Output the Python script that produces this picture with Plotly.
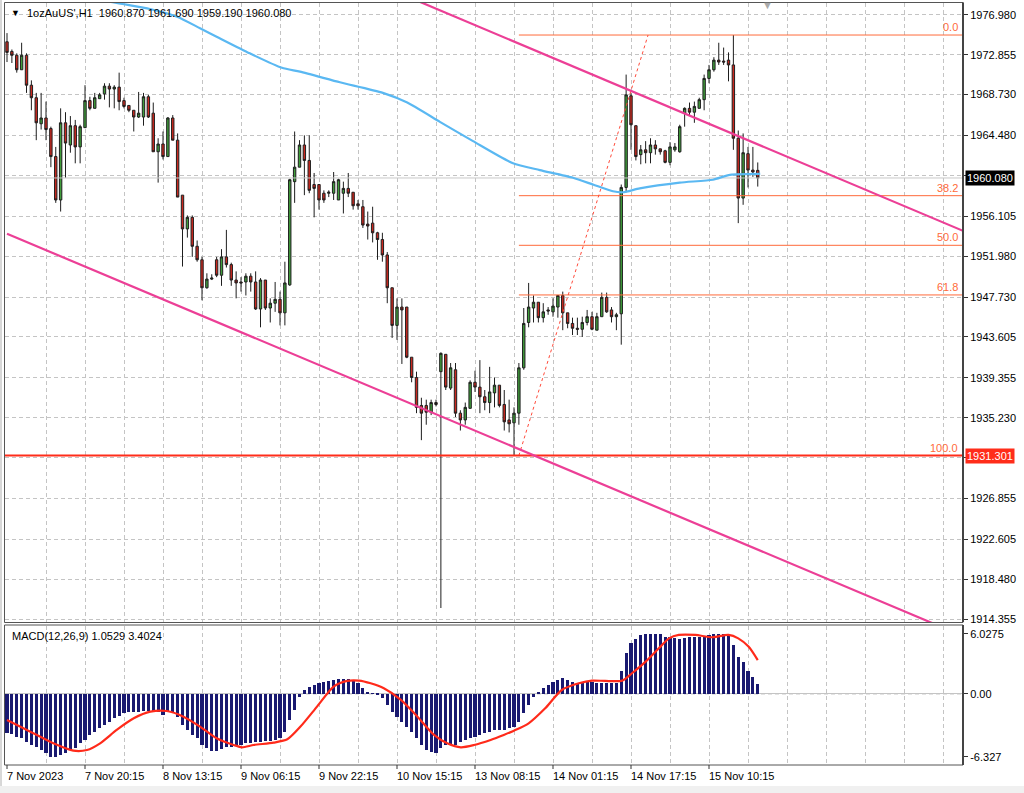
import plotly.graph_objects as go

# ---------------- data ----------------
time_labels = ["7 Nov 2023", "7 Nov 20:15", "8 Nov 13:15", "9 Nov 06:15", "9 Nov 22:15",
               "10 Nov 15:15", "13 Nov 08:15", "14 Nov 01:15", "14 Nov 17:15", "15 Nov 10:15"]
label_bars = [0, 16, 32, 48, 64, 80, 96, 112, 128, 144]

open_ = [1974.2, 1973.2, 1972.8, 1971.3, 1972.8, 1969.7, 1968.4, 1965.7, 1966.3, 1965.2,
         1962.3, 1957.8, 1965.8, 1963.5, 1965.5, 1963.3, 1965.3, 1968.1, 1967.3, 1968.3,
         1968.8, 1969.6, 1969.3, 1969.5, 1968.1, 1967.6, 1967.1, 1966.4, 1966.4, 1968.5,
         1966.8, 1962.8, 1963.6, 1962.3, 1966.3, 1964.0, 1958.3, 1954.8, 1956.0, 1953.0,
         1951.6, 1948.7, 1949.6, 1951.6, 1950.0, 1951.9, 1951.1, 1949.5, 1949.3, 1949.3,
         1949.9, 1949.3, 1946.5, 1949.5, 1946.6, 1947.1, 1947.5, 1946.1, 1949.0, 1959.7,
         1961.2, 1963.5, 1961.9, 1959.4, 1959.4, 1958.5, 1958.5, 1958.5, 1957.8, 1958.5,
         1959.0, 1958.6, 1957.4, 1957.1, 1955.3, 1955.4, 1954.4, 1953.7, 1952.1, 1948.7,
         1944.8, 1946.7, 1946.7, 1941.5, 1939.4, 1936.5, 1936.5, 1935.8, 1936.8, 1940.0,
         1941.8, 1938.3, 1940.2, 1935.7, 1935.0, 1936.2, 1938.9, 1938.4, 1937.4, 1936.8,
         1937.8, 1938.6, 1936.6, 1935.0, 1934.7, 1935.7, 1940.4, 1945.1, 1946.6, 1947.2,
         1945.6, 1946.4, 1946.2, 1946.7, 1947.9, 1946.1, 1945.0, 1944.5, 1944.4, 1945.1,
         1945.7, 1944.3, 1945.7, 1947.7, 1946.4, 1945.7, 1946.0, 1959.1, 1968.6, 1965.5,
         1962.5, 1963.0, 1962.7, 1963.5, 1963.1, 1962.9, 1961.7, 1963.0, 1962.8, 1966.8,
         1967.3, 1966.9, 1967.3, 1968.2, 1970.4, 1971.3, 1972.3, 1972.2, 1972.3, 1971.8,
         1964.2, 1958.0, 1962.6, 1960.9, 1960.87]
high_ = [1975.1, 1973.4, 1973.0, 1974.1, 1973.0, 1970.2, 1968.9, 1968.9, 1968.0, 1965.4,
         1963.3, 1967.3, 1966.9, 1966.5, 1966.1, 1965.6, 1969.7, 1968.5, 1968.9, 1968.9,
         1969.9, 1969.9, 1969.7, 1971.0, 1968.4, 1967.6, 1967.1, 1969.0, 1968.9, 1968.7,
         1967.9, 1964.2, 1964.9, 1966.4, 1966.6, 1964.7, 1958.3, 1956.2, 1956.2, 1953.6,
         1951.9, 1950.2, 1950.1, 1951.9, 1952.7, 1954.7, 1951.3, 1950.4, 1949.8, 1950.2,
         1950.2, 1950.4, 1949.7, 1949.5, 1947.6, 1949.3, 1948.3, 1951.4, 1960.0, 1964.9,
         1964.0, 1964.5, 1964.5, 1960.6, 1959.4, 1958.8, 1958.8, 1960.7, 1960.0, 1959.7,
         1960.6, 1958.6, 1957.8, 1957.8, 1956.6, 1957.1, 1954.5, 1954.4, 1952.4, 1948.7,
         1947.6, 1947.6, 1946.7, 1941.5, 1940.0, 1937.3, 1937.1, 1937.1, 1937.1, 1942.0,
         1941.8, 1940.9, 1940.9, 1936.0, 1936.8, 1939.1, 1940.1, 1941.2, 1938.1, 1940.5,
         1939.4, 1938.6, 1938.1, 1937.1, 1936.3, 1940.9, 1946.6, 1949.2, 1947.9, 1947.2,
         1947.1, 1946.7, 1947.6, 1947.9, 1948.3, 1946.1, 1945.6, 1945.6, 1945.7, 1946.4,
         1946.2, 1946.1, 1948.2, 1948.2, 1946.7, 1946.1, 1959.4, 1970.8, 1968.9, 1965.5,
         1963.5, 1963.9, 1964.2, 1964.0, 1963.1, 1963.0, 1963.8, 1963.7, 1965.6, 1967.4,
         1967.9, 1968.0, 1968.4, 1970.8, 1971.8, 1972.6, 1974.1, 1973.6, 1973.1, 1974.9,
         1965.0, 1964.7, 1963.3, 1963.3, 1961.69]
low_ = [1972.1, 1972.0, 1971.0, 1971.3, 1968.9, 1967.1, 1964.0, 1965.1, 1964.0, 1961.2,
        1957.5, 1956.6, 1960.1, 1962.7, 1961.6, 1961.6, 1965.3, 1967.1, 1967.3, 1968.3,
        1968.2, 1967.4, 1967.3, 1967.1, 1967.3, 1966.9, 1964.9, 1966.3, 1965.5, 1966.3,
        1962.8, 1959.6, 1962.0, 1962.3, 1964.0, 1958.1, 1950.9, 1953.9, 1951.9, 1951.4,
        1947.4, 1948.6, 1949.5, 1949.8, 1948.9, 1950.8, 1948.9, 1947.6, 1948.3, 1947.9,
        1948.3, 1946.4, 1944.6, 1946.4, 1945.1, 1946.2, 1944.8, 1944.8, 1948.9, 1957.5,
        1961.2, 1958.3, 1958.5, 1956.0, 1956.8, 1957.5, 1958.1, 1957.8, 1957.8, 1956.4,
        1958.1, 1956.8, 1956.8, 1954.9, 1953.7, 1953.4, 1951.6, 1951.4, 1947.1, 1943.5,
        1943.3, 1940.8, 1941.4, 1938.9, 1935.7, 1932.9, 1934.5, 1935.5, 1936.4, 1915.5,
        1938.1, 1938.1, 1935.3, 1933.9, 1934.5, 1936.2, 1937.9, 1935.7, 1936.0, 1935.7,
        1936.3, 1936.3, 1933.9, 1933.7, 1931.3, 1934.5, 1940.2, 1944.6, 1945.1, 1945.1,
        1945.1, 1945.9, 1945.7, 1945.6, 1944.3, 1944.5, 1943.8, 1943.8, 1943.6, 1944.8,
        1944.3, 1944.3, 1945.7, 1946.1, 1945.1, 1944.3, 1942.8, 1958.6, 1963.0, 1961.9,
        1961.5, 1961.6, 1961.6, 1962.5, 1962.5, 1961.6, 1961.4, 1962.8, 1962.7, 1965.4,
        1966.6, 1965.8, 1967.3, 1967.1, 1969.9, 1971.1, 1971.8, 1971.8, 1970.1, 1963.0,
        1955.4, 1957.3, 1959.1, 1960.2, 1959.19]
close_ = [1973.1, 1972.8, 1971.3, 1972.8, 1969.7, 1968.4, 1965.8, 1966.3, 1965.1, 1962.3,
          1957.8, 1965.8, 1963.7, 1965.5, 1963.3, 1965.4, 1968.1, 1967.3, 1968.4, 1968.7,
          1969.6, 1969.3, 1969.5, 1968.0, 1967.5, 1967.1, 1966.4, 1966.8, 1968.5, 1966.4,
          1962.8, 1963.6, 1962.3, 1966.3, 1964.0, 1958.1, 1954.8, 1956.0, 1953.0, 1951.6,
          1948.7, 1949.6, 1949.7, 1950.0, 1951.9, 1951.1, 1949.5, 1949.2, 1949.2, 1949.9,
          1949.3, 1946.5, 1949.5, 1946.6, 1947.1, 1947.5, 1946.1, 1949.2, 1959.9, 1961.2,
          1963.5, 1961.9, 1958.8, 1959.0, 1957.8, 1957.8, 1958.6, 1959.7, 1959.9, 1959.0,
          1958.5, 1957.2, 1957.2, 1955.2, 1955.1, 1954.4, 1953.7, 1952.1, 1948.7, 1944.8,
          1946.7, 1946.4, 1941.5, 1939.4, 1936.3, 1935.7, 1935.8, 1936.8, 1936.6, 1941.9,
          1938.4, 1940.4, 1935.7, 1935.0, 1936.3, 1938.9, 1938.4, 1937.4, 1936.8, 1937.9,
          1938.6, 1936.5, 1934.8, 1934.6, 1935.7, 1940.4, 1945.0, 1946.7, 1947.2, 1945.6,
          1946.2, 1946.3, 1946.8, 1947.9, 1946.1, 1945.0, 1944.5, 1944.4, 1945.1, 1945.7,
          1944.4, 1945.7, 1947.7, 1946.2, 1945.7, 1945.9, 1959.1, 1968.7, 1965.6, 1962.3,
          1963.0, 1962.7, 1963.5, 1963.1, 1962.8, 1961.7, 1963.3, 1963.3, 1965.4, 1967.3,
          1966.9, 1967.5, 1968.2, 1970.4, 1971.3, 1972.3, 1972.1, 1972.1, 1971.8, 1964.2,
          1958.0, 1962.7, 1960.9, 1960.7, 1960.08]

# moving average (knots: bar index, value)
ma_bars = [12, 21.7, 29.3, 34.9, 39.6, 43.1, 49.8, 56.4, 60.1, 68.3, 77.1, 82.1, 88.8, 95.6,
           103.8, 109.3, 116.1, 120.2, 124.3, 126.4, 129.8, 138, 144.8, 148.3, 154.5]
ma_vals = [1979.5, 1978.3, 1977.6, 1976.8, 1975.6, 1974.7, 1973.0, 1971.5, 1971.1, 1970.0,
           1968.9, 1967.9, 1965.9, 1963.9, 1961.6, 1960.9, 1960.1, 1959.4, 1958.7, 1958.6,
           1959.0, 1959.6, 1959.9, 1960.4, 1960.5]

# MACD histogram (one per bar) and signal line knots
macd_hist = [-3.95, -4.0, -4.29, -4.46, -4.79, -5.13, -5.29, -5.63, -5.96, -6.30,
             -6.33, -6.13, -5.96, -5.63, -5.46, -4.96, -4.62, -4.12, -3.79, -3.45,
             -3.12, -2.78, -2.45, -2.21, -1.94, -1.78, -1.78, -1.78, -1.71, -1.68,
             -1.68, -1.78, -2.11, -1.78, -1.78, -2.28, -3.12, -3.62, -4.12, -4.46,
             -5.13, -5.46, -5.70, -5.70, -5.56, -5.29, -5.29, -5.13, -5.13, -4.96,
             -4.89, -4.79, -4.79, -4.72, -4.69, -4.62, -4.46, -3.79, -2.61, -1.61,
             -0.33, 0.40, 0.67, 0.90, 1.07, 1.21, 1.31, 1.41, 1.47, 1.47,
             1.47, 1.34, 1.07, 0.57, 0.23, 0.05, -0.10, -0.44, -1.11, -1.78,
             -2.28, -2.78, -3.28, -3.79, -4.46, -5.13, -5.63, -5.80, -5.96, -5.46,
             -5.13, -5.13, -5.13, -4.79, -4.62, -4.46, -4.29, -4.12, -3.95, -3.79,
             -3.62, -3.62, -3.62, -3.45, -3.28, -2.78, -1.94, -1.11, -0.33, 0.23,
             0.57, 0.90, 1.24, 1.41, 1.57, 1.41, 1.24, 1.14, 1.24, 1.34,
             1.24, 1.14, 1.14, 1.14, 1.14, 1.14, 2.35, 4.09, 5.09, 5.49,
             5.93, 6.03, 6.03, 6.03, 6.03, 5.76, 5.70, 5.59, 5.49, 5.59,
             5.70, 5.76, 5.76, 5.76, 5.93, 6.03, 6.03, 6.03, 6.03, 4.92,
             3.75, 3.25, 2.35, 1.74, 1.05]
sig_bars = [0, 5.4, 9.5, 13.6, 16.4, 19.1, 22.5, 26, 29.4, 32.8, 36.2, 39.6, 43, 46.5, 48.2,
            50.6, 54.7, 57.5, 60.2, 63.6, 67, 69.8, 72.2, 74.6, 77.3, 80.8, 84.2, 87.6, 90.3,
            93.1, 95.8, 99.2, 101.9, 104, 107, 110.4, 113.8, 117.3, 120, 122.7, 126.2, 128.2,
            131, 133.7, 135.8, 137.8, 141.2, 144.6, 148, 150, 152.1, 154]
sig_vals = [-2.61, -3.95, -4.96, -5.70, -5.63, -4.96, -3.62, -2.45, -1.78, -1.71, -2.28, -3.28,
            -4.46, -5.13, -5.36, -5.13, -4.89, -4.56, -3.28, -1.27, 0.74, 1.31, 1.34, 1.07,
            0.57, -0.60, -2.28, -4.12, -4.96, -5.36, -5.13, -4.62, -4.12, -3.69, -2.95, -1.44,
            0.40, 1.07, 1.34, 1.31, 1.34, 2.08, 3.25, 4.59, 5.59, 5.93, 5.93, 5.70, 5.93,
            5.59, 4.76, 3.40]

# drawing objects (anchor bar, price)
chan_upper_bars = [60, 196.1]
chan_upper_vals = [1983.6, 1954.6]
chan_lower_bars = [0, 196.1]
chan_lower_vals = [1954.3, 1912.6]
fib_bars = [105, 131.5]
fib_prices = [1931.301, 1974.9]
fib_levels = [0.0, 38.2, 50.0, 61.8, 100.0]
price_ticks = [1976.98, 1972.855, 1968.73, 1964.48, 1960.355, 1956.105, 1951.98, 1947.73,
               1943.605, 1939.355, 1935.23, 1931.105, 1926.855, 1922.605, 1918.48, 1914.355]
price_tick_text = ["1976.980", "1972.855", "1968.730", "1964.480", "", "1956.105", "1951.980",
                   "1947.730", "1943.605", "1939.355", "1935.230", "", "1926.855", "1922.605",
                   "1918.480", "1914.355"]
last_price = 1960.08
level_line = 1931.301
macd_ticks = [6.0275, 0.0, -6.327]
macd_tick_text = ["6.0275", "0.00", "-6.327"]

# ---------------- figure ----------------
W, H = 1024, 793
FONT = "Liberation Sans, Arial, sans-serif"
def px(x):
    return x / W
def py(y):
    return 1 - y / H

bars = list(range(len(close_)))
fig = go.Figure()

fig.add_trace(go.Candlestick(
    x=bars, open=open_, high=high_, low=low_, close=close_,
    increasing=dict(line=dict(color="#1e1e1e", width=1), fillcolor="#3f9c3a"),
    decreasing=dict(line=dict(color="#1e1e1e", width=1), fillcolor="#c9281f"),
    whiskerwidth=0, xaxis="x", yaxis="y", hoverinfo="skip"))

# bid line
fig.add_trace(go.Scatter(x=[-1, 197], y=[last_price, last_price], mode="lines",
                         line=dict(color="#c8c8c8", width=1), hoverinfo="skip"))
# moving average
fig.add_trace(go.Scatter(x=ma_bars, y=ma_vals, mode="lines",
                         line=dict(color="#5ab8f2", width=2.2, shape="spline", smoothing=0.6),
                         hoverinfo="skip"))
# fibonacci
hi, lo = fib_prices[1], fib_prices[0]
for lv in fib_levels:
    p = hi - (hi - lo) * lv / 100.0
    if lv == 100.0:
        continue
    fig.add_trace(go.Scatter(x=[fib_bars[0], 197], y=[p, p], mode="lines",
                             line=dict(color="#ff6a3a", width=1), hoverinfo="skip"))
fig.add_trace(go.Scatter(x=fib_bars, y=fib_prices, mode="lines",
                         line=dict(color="#ff4a3a", width=1, dash="3px,3px"), hoverinfo="skip"))
# horizontal level
fig.add_trace(go.Scatter(x=[-1, 197], y=[level_line, level_line], mode="lines",
                         line=dict(color="#ff2d1a", width=2), hoverinfo="skip"))
# channel
fig.add_trace(go.Scatter(x=chan_upper_bars, y=chan_upper_vals, mode="lines",
                         line=dict(color="#ec3f96", width=2.2), hoverinfo="skip"))
fig.add_trace(go.Scatter(x=chan_lower_bars, y=chan_lower_vals, mode="lines",
                         line=dict(color="#ec3f96", width=2.2), hoverinfo="skip"))

# MACD
fig.add_trace(go.Bar(x=bars, y=macd_hist, width=0.64, marker=dict(color="#191970", line=dict(width=0)),
                     xaxis="x", yaxis="y2", hoverinfo="skip"))
fig.add_trace(go.Scatter(x=sig_bars, y=sig_vals, mode="lines", xaxis="x", yaxis="y2",
                         line=dict(color="#ff2a1a", width=2.2, shape="spline", smoothing=0.7),
                         hoverinfo="skip"))

x0, x1 = 5, 963
main_top, main_bot = 3, 622
macd_top, macd_bot = 626, 765
bar_px = 4.875
first_bar_px = 7
xr = [(x0 - first_bar_px) / bar_px, (x1 - first_bar_px) / bar_px]

grid = dict(showgrid=True, gridcolor="#c4c4c4", griddash="4px,3px", gridwidth=1)

fig.update_layout(
    width=W, height=H, margin=dict(l=0, r=0, t=0, b=0, autoexpand=False),
    paper_bgcolor="white", plot_bgcolor="white", showlegend=False,
    font=dict(family=FONT, size=11, color="black"),
    bargap=0,
    xaxis=dict(domain=[px(x0), px(x1)], range=xr, anchor="y2",
               tickvals=list(range(8, 197, 8)), showticklabels=False, ticks="",
               zeroline=False, rangeslider=dict(visible=False), fixedrange=True, **grid),
    yaxis=dict(domain=[py(main_bot), py(main_top)], range=[1914.05, 1978.22], side="right",
               anchor="x", tickvals=price_ticks, ticktext=price_tick_text, automargin=False,
               ticks="outside", ticklen=4, tickcolor="#333", tickfont=dict(size=11, family=FONT),
               zeroline=False, showline=False, **grid),
    yaxis2=dict(domain=[py(macd_bot), py(macd_top)], range=[-7.14, 6.83], side="right",
                anchor="x", tickvals=macd_ticks, ticktext=macd_tick_text, ticks="outside",
                ticklen=4, tickcolor="#333", tickfont=dict(size=11, family=FONT), automargin=False,
                showgrid=False, zeroline=True, zerolinecolor="#c4c4c4", zerolinewidth=1),
)

shapes = []
# frames
shapes.append(dict(type="rect", xref="paper", yref="paper", x0=px(4.5), x1=px(963),
                   y0=py(main_bot + 0.5), y1=py(2.5), line=dict(color="#555555", width=1)))
shapes.append(dict(type="rect", xref="paper", yref="paper", x0=px(4.5), x1=px(963),
                   y0=py(macd_bot), y1=py(625), line=dict(color="#555555", width=1)))
shapes.append(dict(type="line", xref="paper", yref="paper", x0=px(963), x1=px(963),
                   y0=py(main_bot), y1=py(2.5), line=dict(color="#444444", width=2)))
shapes.append(dict(type="line", xref="paper", yref="paper", x0=px(963), x1=px(963),
                   y0=py(macd_bot), y1=py(625), line=dict(color="#444444", width=2)))
# zero line dashed in MACD
shapes.append(dict(type="line", xref="paper", yref="y2", x0=px(5), x1=px(963), y0=0, y1=0,
                   line=dict(color="#c4c4c4", width=1, dash="4px,3px"), layer="below"))
# outer left border and bottom strip
shapes.append(dict(type="line", xref="paper", yref="paper", x0=px(1), x1=px(1), y0=py(786), y1=1,
                   line=dict(color="#b0b0b0", width=1)))
shapes.append(dict(type="rect", xref="paper", yref="paper", x0=0, x1=1, y0=0, y1=py(786),
                   fillcolor="#f0f0f0", line=dict(width=0)))
# x tick marks at labels
for b in label_bars:
    shapes.append(dict(type="line", xref="x", yref="paper", x0=b, x1=b, y0=py(macd_bot + 4),
                       y1=py(macd_bot), line=dict(color="#333", width=1)))
fig.update_layout(shapes=shapes)

ann = []
ann.append(dict(text="▼", x=px(9), y=py(13), xref="paper", yref="paper", xanchor="left",
                yanchor="middle", showarrow=False, font=dict(size=9, color="black")))
ann.append(dict(text="1ozAuUS',H1  1960.870 1961.690 1959.190 1960.080", x=px(25), y=py(13),
                xref="paper", yref="paper", xanchor="left", yanchor="middle", showarrow=False,
                font=dict(size=11, color="black", family=FONT)))
ann.append(dict(text="MACD(12,26,9) 1.0529 3.4024", x=px(10), y=py(636), xref="paper",
                yref="paper", xanchor="left", yanchor="middle", showarrow=False,
                font=dict(size=11, color="black", family=FONT)))
ann.append(dict(text="▼", x=px(767), y=py(5), xref="paper", yref="paper", xanchor="center",
                yanchor="middle", showarrow=False, font=dict(size=11, color="#aaaaaa")))
for b, t in zip(label_bars, time_labels):
    ann.append(dict(text=t, x=b, y=py(776), xref="x", yref="paper", xanchor="left",
                    yanchor="middle", xshift=-2, showarrow=False,
                    font=dict(size=11, color="black", family=FONT)))
for lv in fib_levels:
    p = hi - (hi - lo) * lv / 100.0
    ann.append(dict(text=f"{lv:.1f}", x=px(960), y=p, xref="paper", yref="y", xanchor="right",
                    yanchor="bottom", yshift=0, showarrow=False,
                    font=dict(size=11, color="#ff6a3a", family=FONT)))
ann.append(dict(text="1960.080", x=px(965), y=last_price, xref="paper", yref="y", xanchor="left",
                yanchor="middle", showarrow=False, bgcolor="black", borderpad=1,
                font=dict(size=11, color="white", family=FONT)))
ann.append(dict(text="1931.301", x=px(965), y=level_line, xref="paper", yref="y", xanchor="left",
                yanchor="middle", showarrow=False, bgcolor="#ff2d1a", borderpad=1,
                font=dict(size=11, color="white", family=FONT)))
fig.update_layout(annotations=ann)

fig.write_html("out.html", config={"displayModeBar": False},
               post_script="document.body.style.margin='0px';document.body.style.overflow='hidden';")
